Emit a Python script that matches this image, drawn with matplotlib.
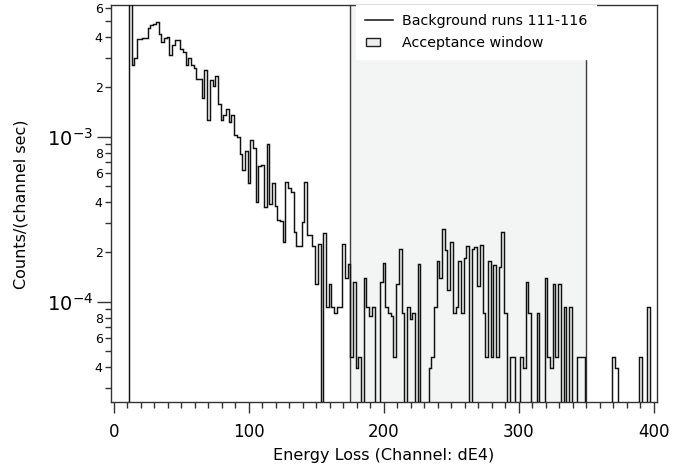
import numpy as np
import matplotlib
matplotlib.use("Agg")
import matplotlib.pyplot as plt
from matplotlib.ticker import FixedLocator, FuncFormatter, MultipleLocator
from matplotlib.lines import Line2D
from matplotlib.patches import Patch, Rectangle
from matplotlib.legend_handler import HandlerPatch

plt.rcParams['font.family'] = ['DejaVu Sans']
plt.rcParams['mathtext.default'] = 'regular'

# ---- data -------------------------------------------------------------
bin_start = 11          # first channel edge
bin_width = 2           # channels per bin
rates = [
    1.0e-2, 2.72e-3, 2.99e-3, 3.89e-3, 3.89e-3, 3.98e-3, 3.98e-3, 4.54e-3, 4.75e-3, 4.82e-3,
    4.94e-3, 4.17e-3, 3.76e-3, 3.95e-3, 4.04e-3, 3.13e-3, 3.60e-3, 3.85e-3, 3.85e-3, 3.40e-3,
    3.27e-3, 2.72e-3, 2.99e-3, 2.72e-3, 2.60e-3, 2.24e-3, 2.24e-3, 1.71e-3, 2.54e-3, 1.26e-3,
    2.21e-3, 2.03e-3, 2.33e-3, 1.59e-3, 1.26e-3, 1.35e-3, 1.47e-3, 1.23e-3, 1.36e-3, 1.03e-3,
    1.00e-3, 7.89e-4, 6.26e-4, 8.16e-4, 5.24e-4, 9.55e-4, 8.51e-4, 4.04e-4, 6.64e-4, 6.74e-4,
    3.76e-4, 8.99e-4, 3.91e-4, 5.26e-4, 3.80e-4, 3.13e-4, 3.10e-4, 2.29e-4, 5.34e-4, 4.92e-4,
    4.64e-4, 2.63e-4, 2.18e-4, 2.18e-4, 3.06e-4, 5.34e-4, 2.54e-4, 2.54e-4, 2.17e-4, 1.29e-4,
    2.23e-4, 0.0, 2.60e-4, 9.26e-5, 1.28e-4, 9.33e-5, 8.58e-5, 9.29e-5, 9.29e-5, 2.23e-4,
    1.39e-4, 1.70e-4, 4.64e-5, 1.31e-4, 3.95e-5, 4.64e-5, 0.0, 1.39e-4, 9.29e-5, 8.23e-5,
    9.29e-5, 0.0, 0.0, 1.31e-4, 1.71e-4, 9.29e-5, 8.58e-5, 8.23e-5, 4.64e-5, 1.28e-4,
    2.09e-4, 8.58e-5, 0.0, 9.29e-5, 7.83e-5, 8.58e-5, 0.0, 1.69e-4, 0.0, 0.0,
    0.0, 3.95e-5, 4.64e-5, 9.29e-5, 1.76e-4, 1.39e-4, 2.75e-4, 2.06e-4, 1.18e-4, 2.31e-4,
    8.58e-5, 9.26e-5, 1.77e-4, 8.58e-5, 1.83e-4, 2.18e-4, 0.0, 2.09e-4, 2.15e-4, 1.25e-4,
    2.21e-4, 8.58e-5, 4.64e-5, 1.77e-4, 4.64e-5, 1.67e-4, 4.64e-5, 1.63e-4, 2.66e-4, 8.51e-5,
    0.0, 4.64e-5, 4.64e-5, 0.0, 0.0, 4.64e-5, 3.95e-5, 1.31e-4, 8.51e-5, 0.0,
    0.0, 8.51e-5, 0.0, 0.0, 1.39e-4, 4.64e-5, 3.95e-5, 1.29e-4, 4.64e-5, 1.29e-4,
    0.0, 9.33e-5, 0.0, 9.33e-5, 0.0, 0.0, 4.64e-5, 4.64e-5, 4.64e-5, 0.0,
    0.0, 0.0, 0.0, 0.0, 0.0, 0.0, 0.0, 0.0, 0.0, 4.64e-5,
    3.95e-5, 0.0, 0.0, 0.0, 0.0, 0.0, 0.0, 0.0, 0.0, 4.64e-5,
    0.0, 0.0, 9.33e-5, 0.0, 0.0, 0.0,
]
window_lo, window_hi = 175, 350
x_major = [0, 100, 200, 300, 400]
y_decades = [1e-4, 1e-3]
y_labelled_mantissas = [2, 4, 6, 8]
series_label = "Background runs 111-116"
window_label = "Acceptance window"
xlabel = "Energy Loss (Channel: dE4)"
ylabel = "Counts/(channel sec)"

# ---- figure -----------------------------------------------------------
W, H = 694, 465
fig = plt.figure(figsize=(W / 100, H / 100), dpi=100)
L, R, T, B = 111, 656.7, 5.3, 402.3
ax = fig.add_axes([L / W, 1 - B / H, (R - L) / W, (B - T) / H])

ymin, ymax = 2.46e-5, 6.26e-3
floor = 1e-7
r = np.asarray(rates, dtype=float)
edges = bin_start + bin_width * np.arange(len(r) + 1)

ax.axvspan(window_lo, window_hi, color='#f3f4f4', zorder=0, lw=0)
for xv in (window_lo, window_hi):
    ax.axvline(xv, color='#3c3c3c', lw=1.0, zorder=1)

ax.stairs(np.where(r > 0, r, floor), edges, baseline=floor,
          color='#111111', lw=1.05, zorder=3)

ax.set_yscale('log')
ax.set_xlim(-2.2, 402)
ax.set_ylim(ymin, ymax)

# x ticks
ax.xaxis.set_major_locator(FixedLocator(x_major))
ax.xaxis.set_minor_locator(MultipleLocator(10))
ax.tick_params(axis='x', which='major', direction='out', length=8, width=1,
               labelsize=12, pad=7, color='#333333')
ax.tick_params(axis='x', which='minor', direction='out', length=4.5, width=1,
               color='#333333')

# y ticks
ax.yaxis.set_major_locator(FixedLocator(y_decades))
ax.yaxis.set_major_formatter(FuncFormatter(
    lambda v, p: r"$10^{%d}$" % int(round(np.log10(v)))))
minor = []
for e in (-5, -4, -3):
    for m in range(2, 10):
        v = m * 10.0 ** e
        if ymin <= v <= ymax:
            minor.append(v)
ax.yaxis.set_minor_locator(FixedLocator(minor))


def minor_fmt(v, p):
    e = np.floor(np.log10(v) + 1e-9)
    m = int(round(v / 10 ** e))
    return str(m) if m in y_labelled_mantissas else ""


ax.yaxis.set_minor_formatter(FuncFormatter(minor_fmt))
ax.tick_params(axis='y', which='major', direction='out', length=10, width=1,
               labelsize=14, pad=3, color='#333333')
ax.tick_params(axis='y', which='minor', direction='out', length=4.5, width=1,
               labelsize=9, pad=1.5, color='#333333')

for s in ax.spines.values():
    s.set_color('#333333')
    s.set_linewidth(1.0)

ax.set_xlabel(xlabel, fontsize=11.5, labelpad=5)
ax.set_ylabel(ylabel, fontsize=11.5, labelpad=13)


def small_box(legend, orig_handle, xdescent, ydescent, width, height, fontsize):
    w = 0.5 * width
    h = 0.8 * height
    return Rectangle((-xdescent + 0.05 * width, -ydescent + 0.1 * height), w, h)


handles = [Line2D([], [], color='#111111', lw=1.1),
           Patch(facecolor='#eeeeee', edgecolor='#222222', lw=1.0)]
leg = ax.legend(handles, [series_label, window_label],
                loc='upper left', bbox_to_anchor=((356 - L) / (R - L), 1.0),
                frameon=True, fancybox=False, framealpha=1.0,
                facecolor='white', edgecolor='white', fontsize=10.3,
                borderaxespad=0, handlelength=2.0, handletextpad=0.6,
                borderpad=0.6, labelspacing=0.6,
                handler_map={Patch: HandlerPatch(patch_func=small_box)})
leg.set_zorder(5)

fig.savefig("out.png", dpi=100)
